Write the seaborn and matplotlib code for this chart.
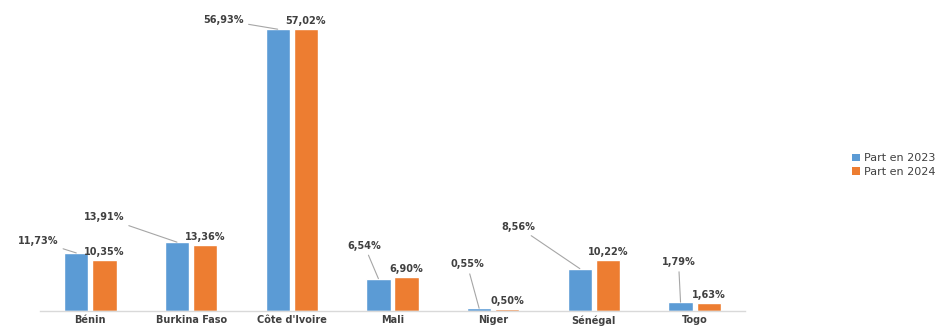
import matplotlib
matplotlib.use("Agg")
import matplotlib.pyplot as plt
import seaborn as sns
import pandas as pd

countries = ["Bénin", "Burkina Faso", "Côte d'Ivoire", "Mali", "Niger", "Sénégal", "Togo"]
part_2023 = [11.73, 13.91, 56.93, 6.54, 0.55, 8.56, 1.79]
part_2024 = [10.35, 13.36, 57.02, 6.90, 0.50, 10.22, 1.63]
series = ["Part en 2023", "Part en 2024"]
colors = ["#5B9BD5", "#ED7D31"]

df = pd.DataFrame({
    "pays": countries * 2,
    "part": part_2023 + part_2024,
    "serie": [series[0]] * len(countries) + [series[1]] * len(countries),
})

sns.set_theme(style="white")
plt.rcParams['font.family'] = ['DejaVu Sans']

fig = plt.figure(figsize=(9.44, 3.28), dpi=100)
ax = fig.add_axes([40 / 944, 17 / 328, 705 / 944, 297 / 328])

sns.barplot(data=df, x="pays", y="part", hue="serie", palette=colors,
            width=0.56, gap=0.14, ax=ax, legend=False, saturation=1)

ax.set_ylim(0, 60)
ax.set_xlim(-0.5, len(countries) - 0.5)
ax.set_xlabel("")
ax.set_ylabel("")
ax.set_yticks([])
for s in ["top", "right", "left"]:
    ax.spines[s].set_visible(False)
ax.spines["bottom"].set_color("#D9D9D9")
ax.spines["bottom"].set_linewidth(1.0)
ax.tick_params(axis="x", length=0, pad=3, labelsize=7, labelcolor="#404040")
for lab in ax.get_xticklabels():
    lab.set_fontweight("bold")
ax.set_xticks([i + 0.5 for i in range(len(countries) - 1)], minor=True)
ax.tick_params(axis="x", which="minor", length=4, color="#D9D9D9", width=0.8)

def fmt(v):
    return f"{v:.2f}%".replace(".", ",")

n = len(countries)
blue_patches = ax.patches[:n]
orange_patches = ax.patches[n:2 * n]

# offsets (pixels) of blue labels relative to bar-top center
blue_off = [(-38, 12), (-73, 25), (-54, 9), (-14, 33), (-12, 44), (-62, 42), (-2, 40)]
for p, v, (dx, dy) in zip(blue_patches, part_2023, blue_off):
    xc = p.get_x() + p.get_width() / 2
    ax.annotate(fmt(v), xy=(xc, p.get_height()), xytext=(dx, dy),
                textcoords="offset pixels", ha="center", va="center",
                fontsize=7, color="#404040", fontweight="bold",
                arrowprops=dict(arrowstyle="-", color="#A6A6A6", lw=0.8,
                                shrinkA=1, shrinkB=0),
                annotation_clip=False)

for p, v in zip(orange_patches, part_2024):
    xc = p.get_x() + p.get_width() / 2
    ax.annotate(fmt(v), xy=(xc, p.get_height()), xytext=(0, 8),
                textcoords="offset pixels", ha="center", va="center",
                fontsize=7, color="#404040", fontweight="bold",
                annotation_clip=False)

from matplotlib.patches import Patch
handles = [Patch(facecolor=c, edgecolor="none") for c in colors]
fig.legend(handles, series, loc="center left", bbox_to_anchor=(0.892, 0.497),
           frameon=False, fontsize=8, handlelength=0.7, handleheight=0.7,
           handletextpad=0.4, labelspacing=0.3, labelcolor="#404040")

fig.savefig("out.png", dpi=100, facecolor="white")
